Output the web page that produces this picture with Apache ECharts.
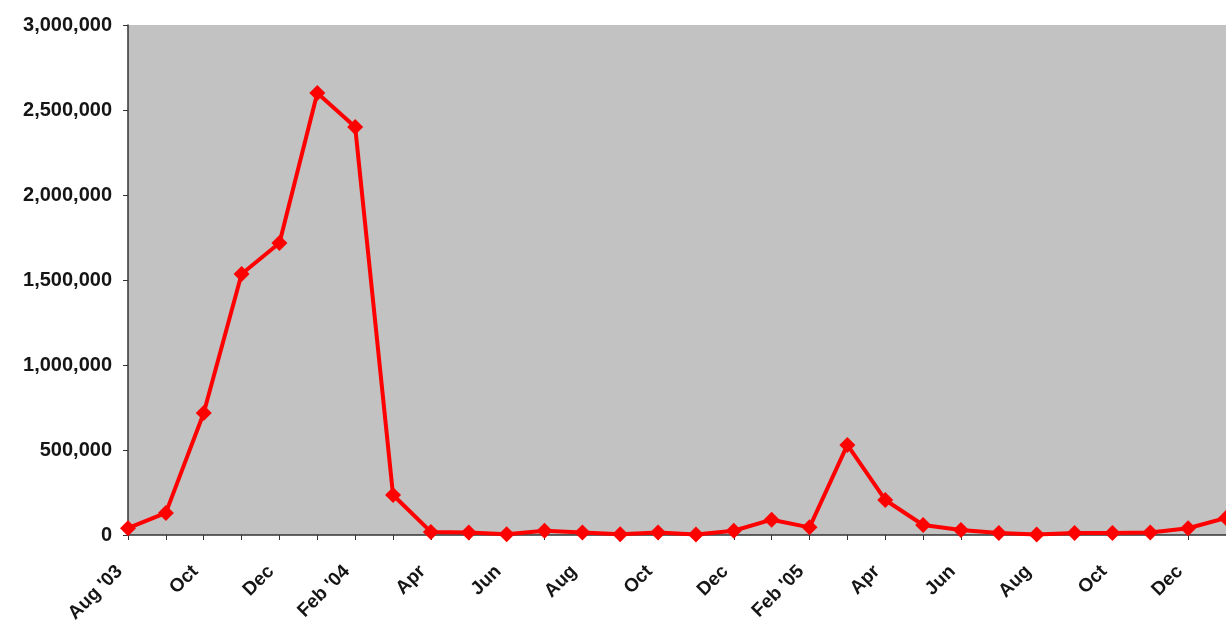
<!DOCTYPE html>
<html>
<head>
<meta charset="utf-8">
<script src="https://cdn.jsdelivr.net/npm/echarts@6/dist/echarts.min.js"></script>
<style>
  html, body { margin: 0; padding: 0; background: #fff; }
  #main { width: 1226px; height: 628px; }
</style>
</head>
<body>
<div id="main"></div>
<script>
var months = ["Aug '03", 'Sep', 'Oct', 'Nov', 'Dec', 'Jan', "Feb '04", 'Mar', 'Apr', 'May',
  'Jun', 'Jul', 'Aug', 'Sep', 'Oct', 'Nov', 'Dec', 'Jan', "Feb '05", 'Mar',
  'Apr', 'May', 'Jun', 'Jul', 'Aug', 'Sep', 'Oct', 'Nov', 'Dec', 'Jan'];
var counts = [40000, 130000, 718000, 1535000, 1718000, 2600000, 2400000, 235000, 18000, 15000,
  5000, 25000, 15000, 5000, 15000, 3000, 25000, 90000, 45000, 530000,
  206000, 59000, 29000, 12000, 3000, 12000, 12000, 15000, 40000, 100000];
var yTicks = [0, 500000, 1000000, 1500000, 2000000, 2500000, 3000000];

var chart = echarts.init(document.getElementById('main'));
chart.setOption({
  animation: false,
  grid: {
    left: 128, top: 25, width: 1101, height: 510,
    show: true, backgroundColor: '#c2c2c2', borderWidth: 0
  },
  xAxis: {
    type: 'category',
    data: months,
    boundaryGap: false,
    axisLine: { lineStyle: { color: '#333', width: 1.5 } },
    axisTick: { show: true, interval: 0, length: 5, lineStyle: { color: '#333' } },
    axisLabel: {
      interval: 1, rotate: 45, margin: 25, padding: [0, 12, 0, 0],
      fontFamily: 'Liberation Sans', fontWeight: 'bold', fontSize: 19, color: '#151515'
    }
  },
  yAxis: {
    type: 'value',
    min: yTicks[0], max: yTicks[yTicks.length - 1], interval: 500000,
    splitLine: { show: false },
    axisLine: { show: true, lineStyle: { color: '#333', width: 1.5 } },
    axisTick: { show: true, length: 5, lineStyle: { color: '#333' } },
    axisLabel: {
      margin: 16, fontFamily: 'Liberation Sans', fontWeight: 'bold', fontSize: 20, color: '#151515',
      formatter: function (v) { return v.toLocaleString('en-US'); }
    }
  },
  series: [{
    type: 'line',
    data: counts,
    symbol: 'diamond',
    symbolSize: 16,
    lineStyle: { color: '#ff0000', width: 4 },
    itemStyle: { color: '#ff0000' }
  }]
});
</script>
</body>
</html>
